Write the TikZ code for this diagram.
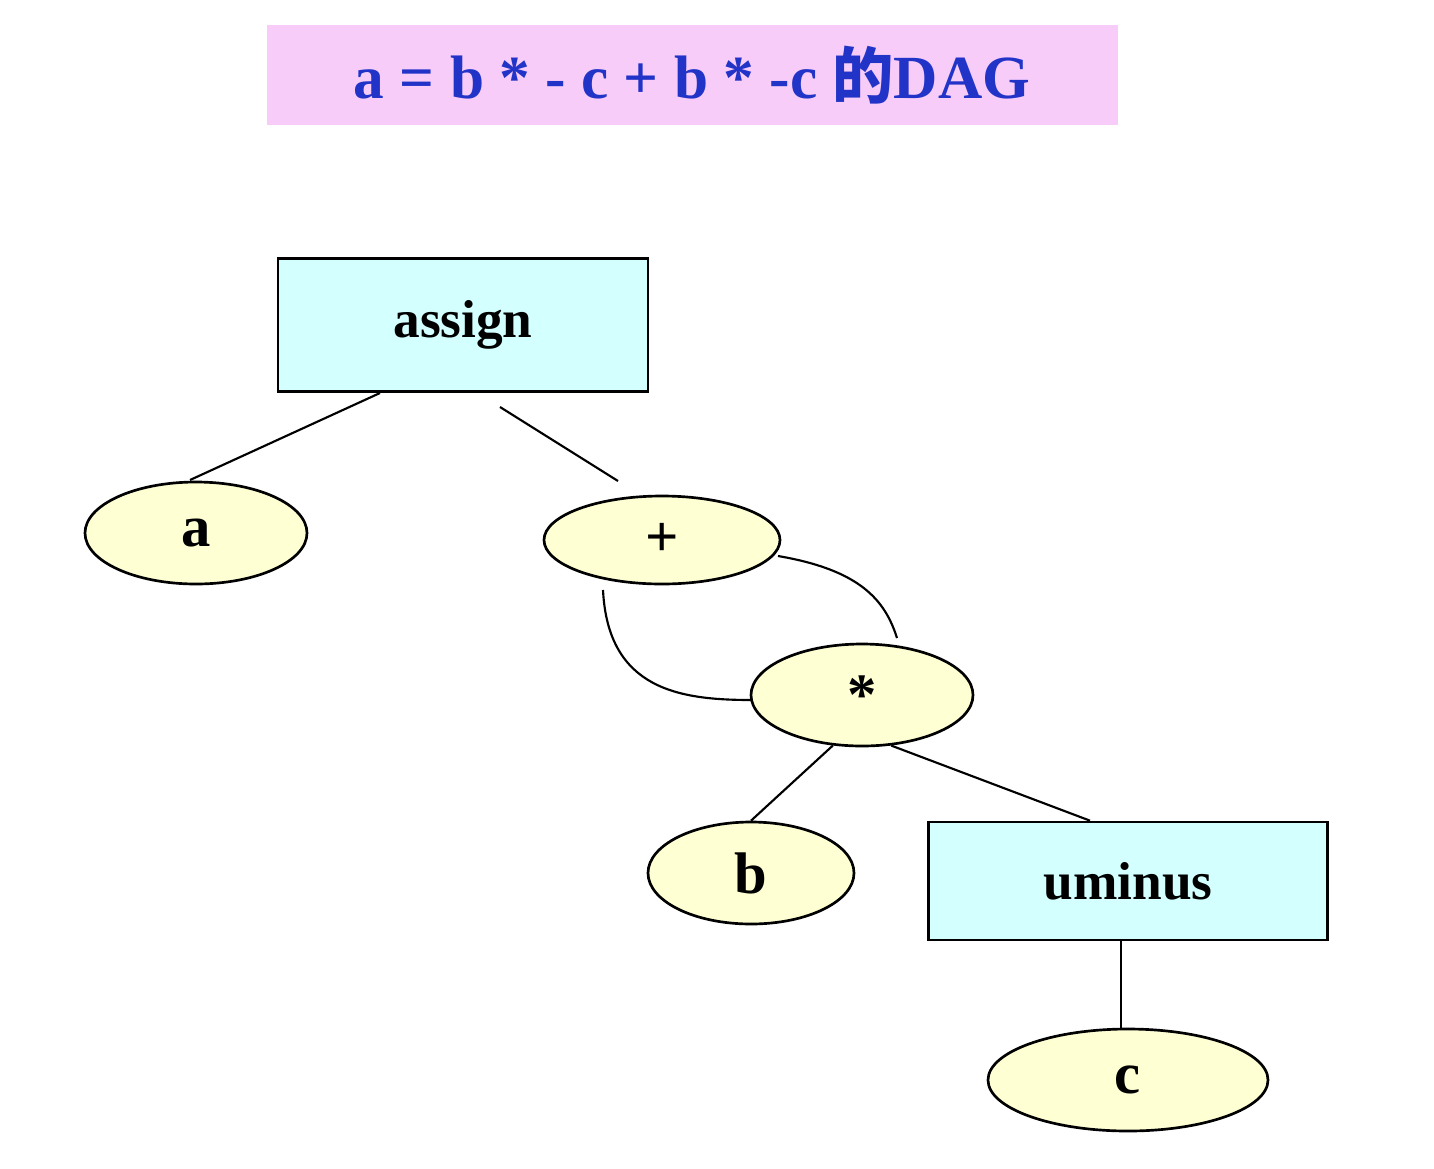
\documentclass[tikz,border=0pt]{standalone}
\usepackage{fontspec}
\setmainfont{Liberation Serif}
\newfontfamily\cjk{Noto Sans CJK SC}
\usetikzlibrary{shapes.geometric}
\definecolor{titlebg}{HTML}{F7CCF8}
\definecolor{titlefg}{HTML}{2233C8}
\definecolor{boxbg}{HTML}{D4FFFF}
\definecolor{ellbg}{HTML}{FFFFD4}
\begin{document}
\begin{tikzpicture}[x=0.75pt,y=-0.75pt,
  box/.style={draw,line width=2pt,fill=boxbg,inner sep=0pt,font=\fontsize{40}{44}\selectfont\bfseries},
  ell/.style={draw,ellipse,line width=2pt,fill=ellbg,inner sep=0pt,font=\fontsize{44}{48}\selectfont\bfseries},
  edge/.style={line width=1.6pt}]
\useasboundingbox (0,0) rectangle (1434,1168);
\node[fill=titlebg,minimum width=851*0.75pt,minimum height=100*0.75pt,text=titlefg,font=\fontsize{46}{50}\selectfont\bfseries] (title) at (692,75) {a = b * - c + b * -c {\cjk 的}DAG};
\node[box,minimum width=370*0.75pt,minimum height=133*0.75pt] (assign) at (463,325) {assign};
\node[ell,minimum width=222*0.75pt,minimum height=102*0.75pt] (a) at (196,533) {a};
\node[ell,minimum width=236*0.75pt,minimum height=88*0.75pt] (plus) at (662,540) {+};
\node[ell,minimum width=222*0.75pt,minimum height=102*0.75pt] (star) at (862,695) {*};
\node[ell,minimum width=206*0.75pt,minimum height=102*0.75pt] (b) at (751,873) {b};
\node[box,minimum width=399*0.75pt,minimum height=118*0.75pt] (uminus) at (1128,881) {uminus};
\node[ell,minimum width=280*0.75pt,minimum height=102*0.75pt] (c) at (1128,1080) {c};
\coordinate (p1) at (500,407);
\coordinate (p2) at (618,481);
\coordinate (q1) at (603,590);
\coordinate (q2) at (752,700);
\coordinate (r1) at (778,556);
\coordinate (r2) at (897,638);
\draw[edge] (380,393) coordinate (aa) -- (190,480) coordinate (ab);
\draw[edge] (p1) -- (p2);
\draw[edge] (q1) .. controls (608,690) and (680,700) .. (q2);
\draw[edge] (r1) .. controls (860,570) and (885,600) .. (r2);
\draw[edge] (star.240) -- (b.north);
\draw[edge] (star.-60) -- (uminus.north -| 1090,0);
\draw[edge] (uminus.south -| 1121,0) -- (c.north -| 1121,0);
\end{tikzpicture}
\end{document}
